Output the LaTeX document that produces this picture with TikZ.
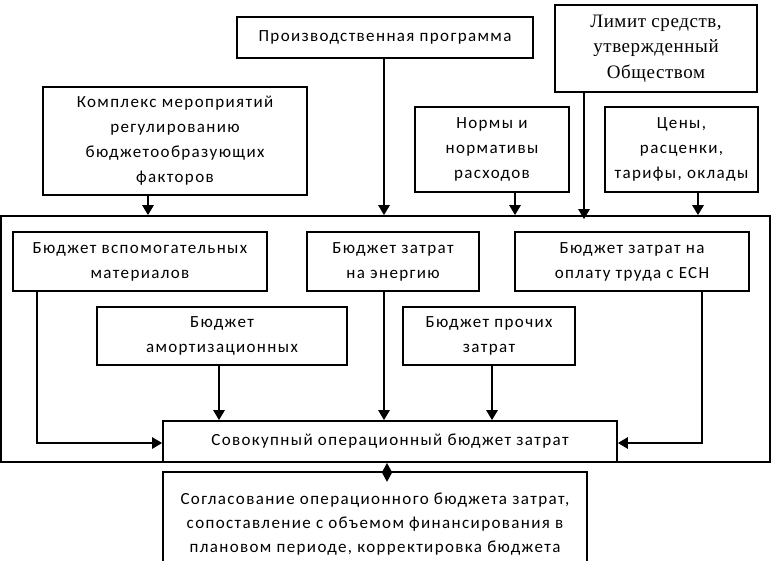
\documentclass[tikz,border=0pt]{standalone}
\usepackage{fontspec}
\setmainfont{Carlito}[LetterSpace=8]
\newfontfamily\seriffont{Liberation Serif}[LetterSpace=3]
\usetikzlibrary{arrows.meta}
\begin{document}
\begin{tikzpicture}[x=1pt,y=-1pt,
  box/.style={draw, line width=1.6pt, inner sep=0pt, align=center,
    font=\fontsize{17}{25}\selectfont, text=black},
  arr/.style={line width=2.4pt, -{Triangle[length=10pt,width=11pt]}},
  dbl/.style={line width=2.4pt, {Triangle[length=10pt,width=10pt]}-{Triangle[length=10pt,width=10pt]}}]
\useasboundingbox (0,0) rectangle (778,560);
\clip (0,0) rectangle (778,560);
\fill[white] (0,0) rectangle (778,560);

% outer frame
\node[draw, line width=1.6pt, minimum width=769pt, minimum height=246pt, inner sep=0pt] (outer) at (385.5,339) {};

% top boxes
\node[box, minimum width=296pt, minimum height=41pt] (prod) at (385,37.5) {Производственная программа};
\node[box, minimum width=202pt, minimum height=87pt, font=\seriffont\fontsize{19}{25.5}\selectfont] (limit) at (656,48.5) {Лимит средств,\\утвержденный\\Обществом};
\node[box, minimum width=264pt, minimum height=108pt] (kompl) at (175,141) {Комплекс мероприятий\\регулированию\\бюджетообразующих\\факторов};
\node[box, minimum width=154pt, minimum height=85pt] (normy) at (492,149.5) {Нормы и\\нормативы\\расходов};
\node[box, minimum width=153pt, minimum height=85pt] (ceny) at (681.5,149.5) {Цены,\\расценки,\\тарифы, оклады};

% inner boxes
\node[box, minimum width=254pt, minimum height=59pt] (vspom) at (140,261.5) {Бюджет вспомогательных\\материалов};
\node[box, minimum width=172pt, minimum height=59pt] (energ) at (393,261.5) {Бюджет затрат\\на энергию};
\node[box, minimum width=234pt, minimum height=59pt] (oplata) at (632,261.5) {Бюджет затрат на\\оплату труда с ЕСН};
\node[box, minimum width=250pt, minimum height=58pt] (amort) at (222,336) {Бюджет\\амортизационных};
\node[box, minimum width=172pt, minimum height=58pt] (proch) at (489,336) {Бюджет прочих\\затрат};
\node[box, minimum width=454pt, minimum height=41pt] (sovok) at (390,441.5) {Совокупный операционный бюджет затрат};
\node[box, minimum width=424pt, minimum height=104pt, anchor=north] (soglas) at (375,471) {};
\node[font=\fontsize{17}{24}\selectfont, align=center, anchor=north, inner sep=0pt, text=black] (sogltxt) at (375,493) {Согласование операционного бюджета затрат,\\сопоставление с объемом финансирования в\\плановом периоде, корректировка бюджета};

% arrows into outer frame
\draw[arr] ([xshift=-27pt]kompl.south) -- ([xshift=-27pt]kompl.south |- outer.north);
\draw[arr] ([xshift=-1pt]prod.south) -- ([xshift=-1pt]prod.south |- outer.north);
\draw[arr] ([xshift=23pt]normy.south) -- ([xshift=23pt]normy.south |- outer.north);
\draw[arr] ([xshift=-72pt]limit.south) -- ([xshift=-72pt,yshift=-4pt]limit.south |- outer.north);
\draw[arr] ([xshift=16.5pt]ceny.south) -- ([xshift=16.5pt]ceny.south |- outer.north);

% arrows to total budget
\draw[arr] ([xshift=-103pt]vspom.south) |- ([yshift=-1.5pt]sovok.west);
\draw[arr] ([xshift=-3pt]amort.south) -- ([xshift=-3pt]amort.south |- sovok.north);
\draw[arr] ([xshift=-9pt]energ.south) -- ([xshift=-9pt]energ.south |- sovok.north);
\draw[arr] ([xshift=3pt]proch.south) -- ([xshift=3pt]proch.south |- sovok.north);
\draw[arr] ([xshift=70pt]oplata.south) |- ([yshift=-1.5pt]sovok.east);

\draw[dbl, shorten >=-11pt] ([xshift=-3pt]sovok.south) -- ([xshift=-3pt]sovok.south |- soglas.north);
\end{tikzpicture}
\end{document}
